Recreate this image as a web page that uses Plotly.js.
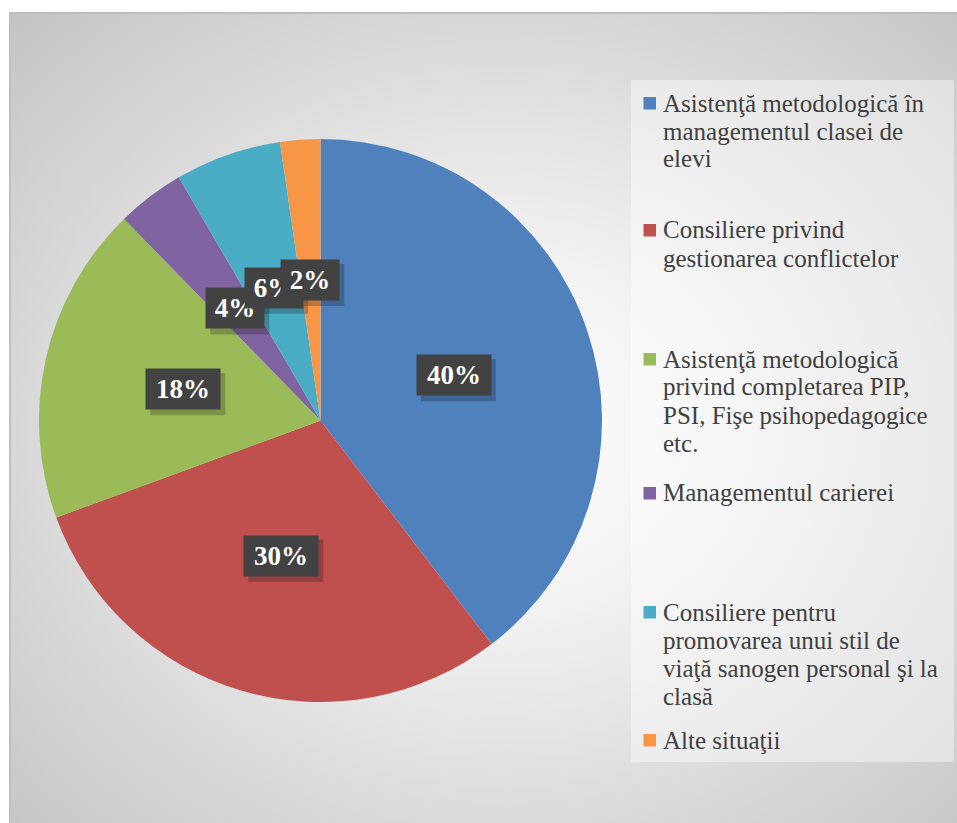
<!DOCTYPE html>
<html>
<head>
<meta charset="utf-8">
<script src="https://cdn.plot.ly/plotly-3.0.1.min.js"></script>
<style>
  html, body { margin: 0; padding: 0; background: #ffffff; }
  #wrap { position: relative; width: 957px; height: 823px; overflow: hidden; }
  #bg {
    position: absolute; left: 9px; top: 12px; width: 948px; height: 811px;
    box-sizing: border-box;
    border-top: 2px solid #bdbdbd; border-left: 2px solid #c0c0c0;
    background: radial-gradient(ellipse farthest-corner at 52% 52%, #ffffff 0%, #f2f2f2 30%, #c4c4c4 100%);
  }
  #chart { position: absolute; left: 0; top: 0; width: 957px; height: 823px; }
</style>
</head>
<body>
<div id="wrap">
  <div id="bg"></div>
  <div id="chart"></div>
</div>
<script>
// ---- data ----
const categories = [
  "Asistenţă metodologică în managementul clasei de elevi",
  "Consiliere privind gestionarea conflictelor",
  "Asistenţă metodologică privind completarea PIP, PSI, Fişe psihopedagogice etc.",
  "Managementul carierei",
  "Consiliere pentru promovarea unui stil de viaţă sanogen personal şi la clasă",
  "Alte situaţii"
];
const legendLabels = [
  ["Asistenţă metodologică în", "managementul clasei de", "elevi"],
  ["Consiliere privind", "gestionarea conflictelor"],
  ["Asistenţă metodologică", "privind completarea PIP,", "PSI, Fişe psihopedagogice", "etc."],
  ["Managementul carierei"],
  ["Consiliere pentru", "promovarea unui stil de", "viaţă sanogen personal şi la", "clasă"],
  ["Alte situaţii"]
];
const values = [39.6, 29.8, 18.3, 3.9, 6.1, 2.3];
const colors = ["#4F81BD", "#C0504D", "#9BBB59", "#8064A2", "#4BACC6", "#F79646"];

// ---- layout constants ----
const W = 957, H = 823;
const cx = 320.5, cy = 420.5, R = 281.5;
const legendFirstLineY = [103, 230, 359, 493, 612, 740];
const lineStep = 28;
const textColor = "#404040";
const serif = "Liberation Serif, Times New Roman, serif";

const total = values.reduce((a, b) => a + b, 0);
const annotations = [];
const shapes = [];

// legend box
shapes.push({
  type: "rect", xref: "paper", yref: "paper",
  x0: 631 / W, x1: 954 / W, y0: 1 - 762 / H, y1: 1 - 80 / H,
  fillcolor: "rgba(255,255,255,0.42)", line: { width: 0 }, layer: "below"
});

// legend entries
legendLabels.forEach((lines, i) => {
  const y0 = legendFirstLineY[i];
  shapes.push({
    type: "rect", xref: "paper", yref: "paper",
    x0: 643.5 / W, x1: 656 / W, y0: 1 - (y0 + 6.5) / H, y1: 1 - (y0 - 6) / H,
    fillcolor: colors[i], line: { width: 0 }
  });
  lines.forEach((ln, j) => {
    annotations.push({
      xref: "paper", yref: "paper", x: 661 / W, y: 1 - (y0 + j * lineStep) / H,
      xanchor: "left", yanchor: "middle", showarrow: false, text: ln,
      font: { family: serif, size: 25, color: textColor }
    });
  });
});

// data labels (box shadow as pixel-sized shapes, label as annotation)
let cum = 0;
values.forEach((v, i) => {
  const mid = (cum + v / 2) / total * 2 * Math.PI;
  cum += v;
  const rr = 0.5 * R;
  const px = cx + rr * Math.sin(mid);
  const py = cy - rr * Math.cos(mid);
  const txt = Math.round(v / total * 100) + "%";
  const w = txt.length === 3 ? 74 : 58;
  const xp = px / W, yp = 1 - py / H;
  shapes.push({
    type: "rect", xref: "paper", yref: "paper",
    xsizemode: "pixel", ysizemode: "pixel", xanchor: xp, yanchor: yp,
    x0: -w / 2 + 4, x1: w / 2 + 5, y0: -20 - 6, y1: 20 - 4,
    fillcolor: "rgba(0,0,0,0.22)", line: { width: 0 }, layer: "above"
  });
  annotations.push({
    xref: "paper", yref: "paper", x: xp, y: yp,
    xanchor: "center", yanchor: "middle", showarrow: false,
    width: w, height: 40, borderpad: 0, valign: "middle", align: "center",
    text: "<b>" + txt + "</b>", bgcolor: "#424242",
    font: { family: serif, size: 27, color: "#ffffff" }
  });
});

const trace = {
  type: "pie",
  labels: categories,
  values: values,
  sort: false,
  direction: "clockwise",
  rotation: 0,
  textinfo: "none",
  hoverinfo: "label+percent",
  marker: { colors: colors, line: { width: 0 } },
  domain: { x: [(cx - R) / W, (cx + R) / W], y: [1 - (cy + R) / H, 1 - (cy - R) / H] },
  showlegend: false
};

const layout = {
  width: W, height: H,
  margin: { l: 0, r: 0, t: 0, b: 0 },
  paper_bgcolor: "rgba(0,0,0,0)",
  plot_bgcolor: "rgba(0,0,0,0)",
  showlegend: false,
  annotations: annotations,
  shapes: shapes
};

Plotly.newPlot("chart", [trace], layout, { displayModeBar: false, staticPlot: true });
</script>
</body>
</html>
